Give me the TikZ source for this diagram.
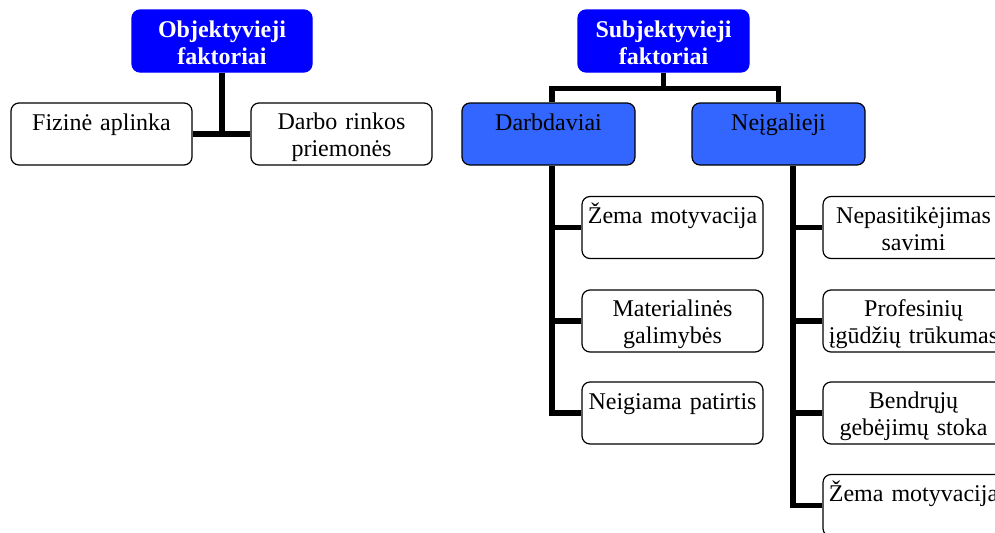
\documentclass[tikz,border=0pt]{standalone}
\usepackage{fontspec}
\setmainfont{Liberation Serif}
\usetikzlibrary{calc}
\definecolor{grpblue}{RGB}{51,102,255}
\newcommand\topln{\rule[-4pt]{0pt}{21.5pt}}
\newcommand\botln{\rule[-3pt]{0pt}{14pt}}

\begin{document}
\begin{tikzpicture}[x=0.75pt,y=-0.75pt,
  box/.style={draw=black,line width=0.9pt,rounded corners=6pt,fill=white,
    align=center,text width=#1,minimum height=46.5pt,inner xsep=0pt,inner ysep=0pt,
    font=\fontsize{18}{20.25}\selectfont},
  box/.default=135.75pt,
  headbox/.style={box=#1,fill=blue,draw=blue,text=white,
    font=\fontsize{18}{20.25}\selectfont\bfseries},
  grpbox/.style={box=129.75pt,fill=grpblue},
  conn/.style={line width=3.8pt}]

  \useasboundingbox (0,0) rectangle (995,532);
  \clip (0,0) rectangle (995,532);

  \node[headbox=135pt] (obj) at (222,41) {\topln Objektyvieji\\\botln faktoriai};
  \node[box] (fiz) at (101.5,134) {\topln Fizinė aplinka\\\botln};
  \node[box] (rink) at (341.5,134) {\topln Darbo rinkos\\\botln priemonės};

  \node[headbox=128.25pt] (subj) at (663.5,41) {\topln Subjektyvieji\\\botln faktoriai};
  \node[grpbox] (darb) at (548.5,134) {\topln Darbdaviai\\\botln};
  \node[grpbox] (neig) at (778.5,134) {\topln Neįgalieji\\\botln};

  \node[box] (dzem) at (672.5,227.5) {\topln Žema motyvacija\\\botln};
  \node[box] (dmat) at (672.5,321) {\topln Materialinės\\\botln galimybės};
  \node[box] (dneg) at (672.5,413) {\topln Neigiama patirtis\\\botln};

  \node[box] (nnep) at (913.5,227.5) {\topln Nepasitikėjimas\\\botln savimi};
  \node[box] (npro) at (913.5,321) {\topln Profesinių\\\botln įgūdžių trūkumas};
  \node[box] (nben) at (913.5,413) {\topln Bendrųjų\\\botln gebėjimų stoka};
  \node[box] (nzem) at (913.5,505.5) {\topln Žema motyvacija\\\botln};

  \draw[conn] (fiz) -- (rink);
  \draw[conn] (obj) -- (obj |- fiz);

  \coordinate (sbus) at ($(subj.south)+(0,16)$);
  \coordinate (dbus) at ($(darb.south)+(3.5,0)$);
  \coordinate (nbus) at ($(neig.south)+(14.5,0)$);
  \draw[conn] (subj) -- (sbus);
  \draw[conn] ($(darb.north)+(3.5,0)$) |- (sbus) -| (neig.north);

  \draw[conn] (dbus) |- (dneg.west);
  \draw[conn] (dzem.west) -- (dzem.west -| dbus);
  \draw[conn] (dmat.west) -- (dmat.west -| dbus);

  \draw[conn] (nbus) |- (nzem.west);
  \draw[conn] (nnep.west) -- (nnep.west -| nbus);
  \draw[conn] (npro.west) -- (npro.west -| nbus);
  \draw[conn] (nben.west) -- (nben.west -| nbus);
\end{tikzpicture}
\end{document}
